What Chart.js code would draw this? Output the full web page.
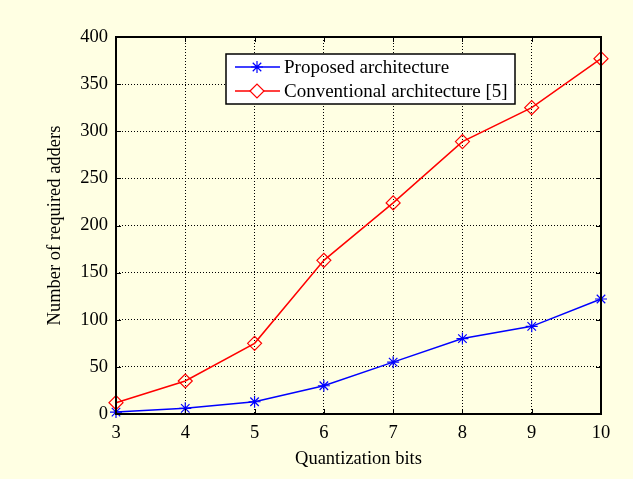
<!DOCTYPE html>
<html>
<head>
<meta charset="utf-8">
<script src="https://cdn.jsdelivr.net/npm/chart.js@4.4.1/dist/chart.umd.min.js"></script>
<style>
  html, body { margin: 0; padding: 0; background: #FFFFE3; }
  #wrap { width: 633px; height: 479px; }
</style>
</head>
<body>
<div id="wrap"><canvas id="c"></canvas></div>
<script>
const bits = [3, 4, 5, 6, 7, 8, 9, 10];
const proposed = [2, 6, 13, 30, 55, 80, 93, 122];
const conventional = [12, 35, 75, 163, 224, 289, 325, 377];
const yTicks = [0, 50, 100, 150, 200, 250, 300, 350, 400];

const serif = '"Liberation Serif", "Times New Roman", serif';

// box, inside tick marks and the legend, drawn the MATLAB way
const framePlugin = {
    id: 'frame',
    afterDatasetsDraw(chart) {
        const { ctx, chartArea: a, scales } = chart;
        ctx.save();
        ctx.strokeStyle = '#000';
        ctx.lineWidth = 1;
        ctx.beginPath();
        bits.forEach(v => {
            const x = Math.round(scales.x.getPixelForValue(v)) + 0.5;
            ctx.moveTo(x, a.bottom); ctx.lineTo(x, a.bottom - 5);
            ctx.moveTo(x, a.top); ctx.lineTo(x, a.top + 5);
        });
        yTicks.forEach(v => {
            const y = Math.round(scales.y.getPixelForValue(v)) + 0.5;
            ctx.moveTo(a.left, y); ctx.lineTo(a.left + 5, y);
            ctx.moveTo(a.right, y); ctx.lineTo(a.right - 5, y);
        });
        ctx.stroke();
        ctx.lineWidth = 2;
        ctx.strokeRect(a.left, a.top, a.right - a.left, a.bottom - a.top);

        // legend
        const lx = 226, ly = 54, lw = 289, lh = 50;
        ctx.fillStyle = '#fff';
        ctx.fillRect(lx, ly, lw, lh);
        ctx.lineWidth = 1.5;
        ctx.strokeRect(lx, ly, lw, lh);
        ctx.font = '19px ' + serif;
        ctx.textBaseline = 'middle';
        chart.data.datasets.forEach((ds, i) => {
            const y = ly + 13 + i * 24;
            ctx.strokeStyle = ds.borderColor;
            ctx.lineWidth = ds.borderWidth;
            ctx.beginPath();
            ctx.moveTo(lx + 9, y); ctx.lineTo(lx + 54, y);
            ctx.stroke();
            ctx.fillStyle = '#fff';
            ctx.strokeStyle = ds.pointBorderColor;
            ctx.lineWidth = 1.2;
            Chart.helpers.drawPoint(ctx, {
                pointStyle: ds.pointStyle, radius: ds.pointRadius, borderWidth: 1.2
            }, lx + 31, y);
            ctx.fillStyle = '#000';
            ctx.fillText(ds.label, lx + 58, y + 1);
        });
        ctx.restore();
    }
};

new Chart(document.getElementById('c'), {
    type: 'line',
    data: {
        datasets: [{
            label: 'Proposed architecture',
            data: bits.map((b, i) => ({ x: b, y: proposed[i] })),
            borderColor: '#0000FF',
            borderWidth: 1.5,
            pointStyle: 'star',
            pointRadius: 6,
            pointBorderColor: '#0000FF',
            pointBackgroundColor: 'transparent',
            pointBorderWidth: 1.2,
            tension: 0
        }, {
            label: 'Conventional architecture [5]',
            data: bits.map((b, i) => ({ x: b, y: conventional[i] })),
            borderColor: '#FF0000',
            borderWidth: 1.5,
            pointStyle: 'rectRot',
            pointRadius: 7,
            pointBorderColor: '#FF0000',
            pointBackgroundColor: 'transparent',
            pointBorderWidth: 1.2,
            tension: 0
        }]
    },
    options: {
        responsive: true,
        maintainAspectRatio: false,
        animation: false,
        clip: false,
        layout: { padding: { top: 37, right: 32, left: 44, bottom: 9 } },
        plugins: {
            legend: { display: false },
            tooltip: { enabled: false }
        },
        scales: {
            x: {
                type: 'linear',
                min: 3,
                max: 10,
                afterBuildTicks: axis => { axis.ticks = bits.map(v => ({ value: v })); },
                afterFit: axis => { axis.height = 56; },
                ticks: { color: '#000', font: { family: serif, size: 18.5 }, padding: 8 },
                grid: { color: '#000', lineWidth: 1, drawTicks: false },
                border: { display: false, dash: [1, 2] },
                title: {
                    display: true,
                    text: 'Quantization bits',
                    color: '#000',
                    font: { family: serif, size: 18.5 },
                    padding: { top: 4, bottom: 0 }
                }
            },
            y: {
                type: 'linear',
                min: 0,
                max: 400,
                afterBuildTicks: axis => { axis.ticks = yTicks.map(v => ({ value: v })); },
                afterFit: axis => { axis.width = 72; },
                ticks: { color: '#000', font: { family: serif, size: 18.5 }, padding: 8 },
                grid: { color: '#000', lineWidth: 1, drawTicks: false },
                border: { display: false, dash: [1, 2] },
                title: {
                    display: true,
                    text: 'Number of required adders',
                    color: '#000',
                    font: { family: serif, size: 18.5 },
                    padding: { top: 0, bottom: 0 }
                }
            }
        }
    },
    plugins: [framePlugin]
});
</script>
</body>
</html>
